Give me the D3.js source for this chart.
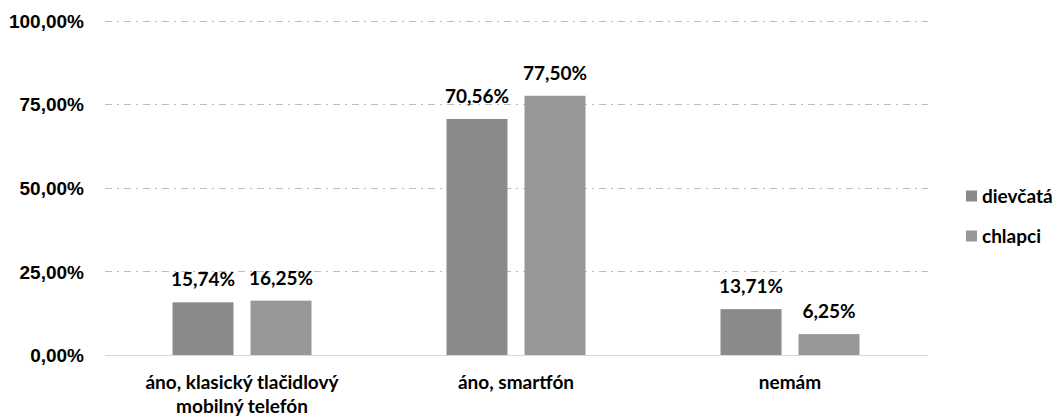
<!DOCTYPE html>
<html><head><meta charset="utf-8">
<script src="https://cdn.jsdelivr.net/npm/d3@7"></script>
<style>body{margin:0;background:#fff}svg{font-family:Lato,"Open Sans",sans-serif;font-weight:bold}</style>
</head><body><svg id="c" width="1060" height="420"></svg>
<script>
const categories = [["áno, klasický tlačidlový","mobilný telefón"],["áno, smartfón"],["nemám"]];
const seriesNames = ["dievčatá","chlapci"];
const dievcata = [15.74, 70.56, 13.71];
const chlapci = [16.25, 77.50, 6.25];
const yTicks = [0,25,50,75,100];
const colors = ["#8a8a8a","#989898"];

const FS = 19;
const svg = d3.select("#c");
const x0 = 105, x1 = 927, yTop = 20.5, yBot = 355;
const x = d3.scaleBand().domain(d3.range(categories.length)).range([x0,x1]);
const xs = d3.scaleBand().domain([0,1]).range([0,x.bandwidth()]).paddingInner(17/78).paddingOuter(0.8654);
const y = d3.scaleLinear().domain([0,100]).range([yBot,yTop]);
const fmt = v => d3.format(".2f")(v).replace(".",",")+"%";

// grid
svg.append("g").selectAll("line").data(yTicks.filter(t=>t>0)).join("line")
  .attr("x1",x0).attr("x2",x1+1).attr("y1",d=>Math.round(y(d))+0.5).attr("y2",d=>Math.round(y(d))+0.5)
  .attr("stroke","#bdbdbd").attr("stroke-width",1).attr("stroke-dasharray","7,5,2,5");
// y labels
const yAxis = d3.axisLeft(y).tickValues(yTicks).tickSize(0).tickPadding(0).tickFormat(fmt);
const ga = svg.append("g").attr("transform",`translate(${x0-21},0)`).call(yAxis);
ga.select(".domain").remove();
ga.selectAll("text").attr("font-size",FS).attr("fill","#000").attr("font-family","inherit").attr("font-weight","bold").attr("dy","0.35em");

const data = [dievcata, chlapci];
data.forEach((vals,si)=>{
  const g = svg.append("g");
  g.selectAll("rect").data(vals).join("rect")
    .attr("x",(d,i)=>x(i)+xs(si)).attr("width",xs.bandwidth())
    .attr("y",d=>y(d)).attr("height",d=>yBot-y(d)).attr("fill",colors[si]);
  g.selectAll("text").data(vals).join("text")
    .attr("x",(d,i)=>x(i)+xs(si)+xs.bandwidth()/2).attr("y",d=>y(d)-16)
    .attr("text-anchor","middle").attr("font-size",FS).attr("fill","#000").text(d=>fmt(d));
});
// baseline
svg.append("line").attr("x1",x0).attr("x2",x1+1).attr("y1",yBot+0.5).attr("y2",yBot+0.5).attr("stroke","#d9d9d9");
// x labels
categories.forEach((lines,i)=>{
  const t = svg.append("text").attr("text-anchor","middle").attr("font-size",FS).attr("fill","#000");
  lines.forEach((l,j)=>t.append("tspan").attr("x",x(i)+x.bandwidth()/2).attr("y",yBot+34+j*24).text(l));
});
// legend
seriesNames.forEach((n,i)=>{
  const ly = 196 + i*40;
  svg.append("rect").attr("x",966).attr("y",ly-5.5).attr("width",11).attr("height",11).attr("fill",colors[i]);
  svg.append("text").attr("x",982).attr("y",ly).attr("dy","0.35em").attr("font-size",FS).attr("fill","#000").text(n);
});
</script></body></html>
